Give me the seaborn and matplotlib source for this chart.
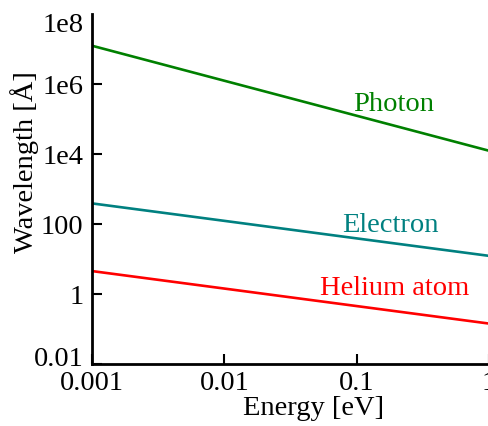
import matplotlib
matplotlib.use("Agg")
import matplotlib.pyplot as plt
import matplotlib.transforms as mtransforms
import pandas as pd
import seaborn as sns

# de Broglie / photon wavelengths vs. kinetic energy
energy_ev = [0.001, 0.01, 0.1, 1.0]
photon_wl = [1.24e7, 1.24e6, 1.24e5, 1.24e4]
electron_wl = [388.0, 123.0, 38.8, 12.3]
helium_wl = [4.52, 1.43, 0.452, 0.143]

series_names = ["Photon", "Electron", "Helium atom"]
series_colors = ["#008000", "#008080", "#ff0000"]
label_pos = [(0.19, 2.6e5), (0.18, 0.9e2), (0.195, 1.45e0)]

x_ticks = [0.001, 0.01, 0.1, 1]
x_tick_labels = ["0.001", "0.01", "0.1", "1"]
y_ticks = [0.01, 1, 100, 1e4, 1e6, 1e8]
y_tick_labels = ["0.01", "1", "100", "1e4", "1e6", "1e8"]

FS = 20.5

sns.set_style("ticks")
plt.rcParams["font.family"] = ["Liberation Serif", "DejaVu Serif"]
plt.rcParams["text.color"] = "black"
plt.rcParams["axes.labelcolor"] = "black"
plt.rcParams["xtick.color"] = "black"
plt.rcParams["ytick.color"] = "black"

frames = []
for name, vals in zip(series_names, [photon_wl, electron_wl, helium_wl]):
    frames.append(pd.DataFrame({"Energy": energy_ev, "Wavelength": vals, "Particle": name}))
df = pd.concat(frames, ignore_index=True)

fig = plt.figure(figsize=(4.89, 4.26), dpi=100)
ax = fig.add_axes([92 / 489, 1 - 364 / 426, 1 - 92 / 489, (364 - 14) / 426])

sns.lineplot(data=df, x="Energy", y="Wavelength", hue="Particle",
             palette=dict(zip(series_names, series_colors)),
             linewidth=1.9, legend=False, ax=ax)

ax.set_xscale("log")
ax.set_yscale("log")
ax.set_xlim(0.001, 1)
ax.set_ylim(0.01, 1e8)

ax.set_xticks(x_ticks)
ax.set_xticklabels(x_tick_labels)
ax.set_yticks(y_ticks)
ax.set_yticklabels(y_tick_labels)
ax.minorticks_off()

ax.tick_params(axis="both", which="major", direction="in", length=7, width=1.5,
               labelsize=FS, colors="black")
ax.tick_params(axis="x", pad=5)
ax.tick_params(axis="y", pad=6)
for side in ["top", "right"]:
    ax.spines[side].set_visible(False)
for side in ["left", "bottom"]:
    ax.spines[side].set_linewidth(2)
    ax.spines[side].set_color("black")

# no tick mark drawn at the very top of the y axis
ax.yaxis.get_major_ticks()[-1].tick1line.set_visible(False)

# keep the end labels of the y axis inside the axis span
ylabels = ax.get_yticklabels()
shift_up = mtransforms.ScaledTranslation(0, 8 / 100, fig.dpi_scale_trans)
shift_down = mtransforms.ScaledTranslation(0, -9 / 100, fig.dpi_scale_trans)
ylabels[0].set_transform(ylabels[0].get_transform() + shift_up)
ylabels[-1].set_transform(ylabels[-1].get_transform() + shift_down)

ax.set_xlabel("Energy [eV]", fontsize=FS, color="black")
ax.set_ylabel("Wavelength [Å]", fontsize=FS, color="black")
ax.xaxis.label.set_va("center")
ax.yaxis.label.set_va("center")
ax.yaxis.label.set_rotation_mode("default")
ax.xaxis.set_label_coords(0.557, -0.126)
ax.yaxis.set_label_coords(-0.169, 0.577)

for name, color, (lx, ly) in zip(series_names, series_colors, label_pos):
    ax.text(lx, ly, name, color=color, fontsize=FS, ha="center", va="center")

fig.savefig("out.png", dpi=100)
